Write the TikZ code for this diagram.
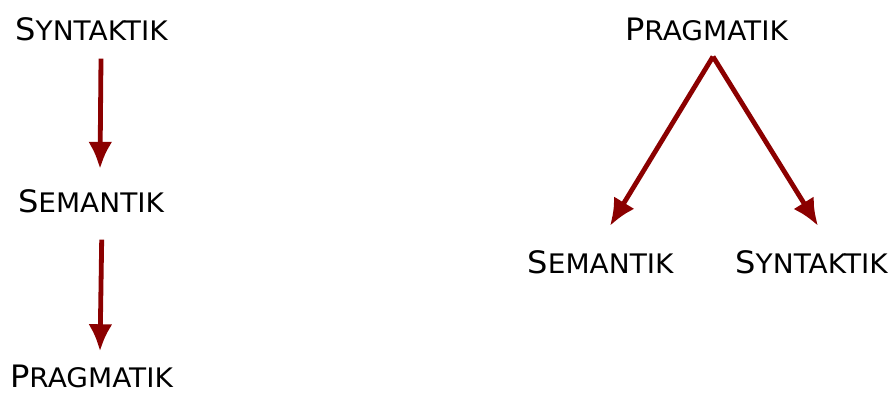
\documentclass[tikz,border=0pt]{standalone}
\usepackage{fontspec}
\setmainfont{DejaVu Sans}[FakeStretch=1.04]
\usepackage{tikz}
\usetikzlibrary{positioning,arrows.meta}
\definecolor{arrowred}{RGB}{139,0,0}
\newcommand{\kap}[2]{{\fontsize{31}{37}\selectfont #1}{\fontsize{27}{32}\selectfont #2}}

\begin{document}
\begin{tikzpicture}[x=1bp,y=1bp,>={Latex[length=27bp,width=24bp]},line join=bevel,
  term/.style={draw=none,inner sep=0pt,anchor=base},
  dep/.style={arrowred,line width=4.8bp,->}]
\useasboundingbox (0,0) rectangle (892,394);
%% left: Syntaktik -> Semantik -> Pragmatik
\node (syn_l) at (91.5,353.5) [term] {\kap{S}{YNTAKTIK}};
  \node (sem_l) at (91,182) [term] {\kap{S}{EMANTIK}};
  \node (prag_l) at (91.5,7) [term] {\kap{P}{RAGMATIK}};
  \draw [dep] ([shift={(9.5,-17.5)}]syn_l.south) -- ([shift={(9,20)}]sem_l.north);
  \draw [dep] ([shift={(10.7,-27)}]sem_l.south) -- ([shift={(8.5,13)}]prag_l.north);
%% right: Pragmatik -> Semantik, Syntaktik
\node (prag_r) at (706.5,354) [term] {\kap{P}{RAGMATIK}};
  \node (sem_r) at (600.5,121) [term] {\kap{S}{EMANTIK}};
  \node (syn_r) at (811.5,121) [term] {\kap{S}{YNTAKTIK}};
  \draw [dep] ([shift={(6.5,-16)}]prag_r.south) -- ([shift={(9.5,24)}]sem_r.north);
  \draw [dep] ([shift={(6.5,-16)}]prag_r.south) -- ([shift={(6.5,24)}]syn_r.north);
%
\end{tikzpicture}
\end{document}
